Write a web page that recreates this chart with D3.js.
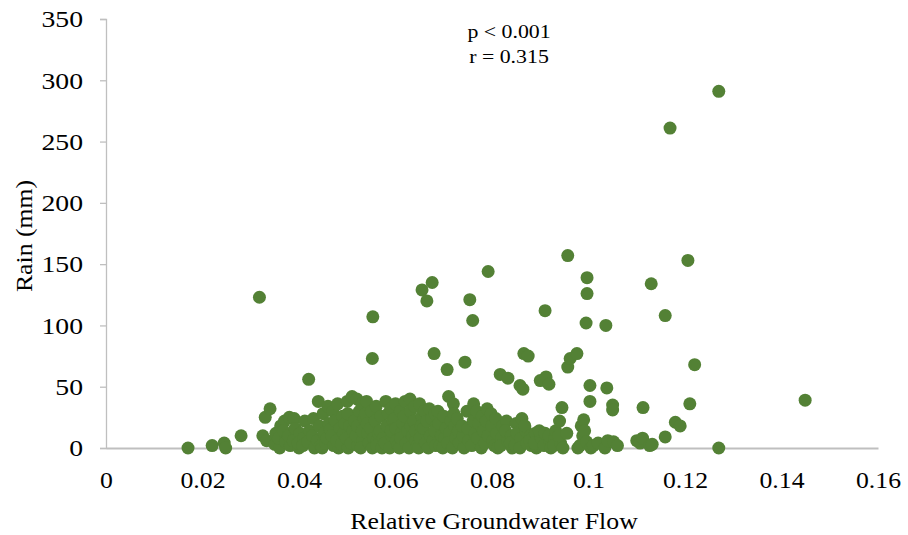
<!DOCTYPE html>
<html>
<head>
<meta charset="utf-8">
<script src="https://cdn.jsdelivr.net/npm/d3@7/dist/d3.min.js"></script>
<style>
  html, body { margin: 0; padding: 0; background: #fff; }
  svg { display: block; }
  text { font-family: "Liberation Serif", "Times New Roman", serif; fill: #000; }
</style>
</head>
<body>
<svg id="chart" width="908" height="535"></svg>
<script>
// ---- data ----
const xTicks = [0, 0.02, 0.04, 0.06, 0.08, 0.1, 0.12, 0.14, 0.16];
const xTickLabels = ["0", "0.02", "0.04", "0.06", "0.08", "0.1", "0.12", "0.14", "0.16"];
const yTicks = [0, 50, 100, 150, 200, 250, 300, 350];
const annotation = ["p < 0.001", "r = 0.315"];
const xTitle = "Relative Groundwater Flow";
const yTitle = "Rain (mm)";

// [relative groundwater flow, rain (mm)]
const observations = [
  [0.017,0],[0.022,2],[0.0245,4],[0.0248,0],[0.028,10],[0.0318,123],[0.0325,10],
  [0.033,25],[0.0333,6],[0.034,32],[0.035,3],[0.0352,12],
  [0.036,0],[0.0362,18],[0.0358,8],[0.037,22],[0.0372,5],[0.0368,14],
  [0.038,25],[0.0382,2],[0.0378,10],[0.039,24],[0.0392,16],[0.0388,6],
  [0.040,0],[0.0402,12],[0.0398,4],[0.041,8],[0.0412,22],[0.0408,2],
  [0.042,56],[0.0422,14],[0.0418,5],[0.043,24],[0.0432,0],[0.0428,10],
  [0.044,38],[0.0442,18],[0.0438,6],[0.0445,2],
  [0.045,28],[0.0452,12],[0.0448,0],[0.0455,4],
  [0.046,34],[0.0462,20],[0.0458,8],[0.0465,15],
  [0.047,30],[0.0472,2],[0.0468,10],[0.0475,22],
  [0.048,36],[0.0482,0],[0.0478,6],[0.0485,16],
  [0.049,26],[0.0492,12],[0.0488,3],[0.0495,20],
  [0.050,38],[0.0502,0],[0.0498,8],[0.0505,18],[0.0501,28],
  [0.051,42],[0.0512,14],[0.0508,4],[0.0515,22],
  [0.052,40],[0.0522,2],[0.0518,10],[0.0525,30],[0.0521,18],
  [0.053,36],[0.0532,6],[0.0528,0],[0.0535,24],[0.0531,14],
  [0.054,38],[0.0542,12],[0.0538,28],[0.0545,4],[0.0541,20],
  [0.0553,107],[0.0552,73],[0.055,30],[0.0552,0],[0.0548,16],[0.0555,8],
  [0.056,34],[0.0562,6],[0.0558,22],[0.0565,12],[0.0561,2],
  [0.057,26],[0.0572,0],[0.0568,14],[0.0575,8],
  [0.058,38],[0.0582,18],[0.0578,4],[0.0585,28],
  [0.059,32],[0.0592,10],[0.0588,0],[0.0595,22],[0.0591,14],
  [0.060,36],[0.0602,6],[0.0598,24],[0.0605,2],[0.0601,16],
  [0.061,30],[0.0612,12],[0.0608,0],[0.0615,20],[0.0611,8],
  [0.062,38],[0.0622,4],[0.0618,26],[0.0625,14],
  [0.063,40],[0.0632,18],[0.0628,0],[0.0635,10],[0.0631,30],
  [0.064,34],[0.0642,6],[0.0638,22],[0.0645,2],[0.0641,14],
  [0.0655,129],[0.065,36],[0.0652,12],[0.0648,0],[0.0655,26],[0.0651,8],[0.0653,18],
  [0.0665,120],[0.066,30],[0.0662,4],[0.0658,16],[0.0665,22],
  [0.0676,135],[0.067,32],[0.0672,10],[0.0668,0],[0.0675,24],
  [0.068,77],[0.0682,28],[0.0678,6],[0.0685,18],[0.0681,14],[0.0683,2],
  [0.069,20],[0.0692,2],[0.0688,30],[0.0695,10],
  [0.0707,64],[0.070,26],[0.0702,8],[0.0698,0],[0.0705,16],
  [0.071,42],[0.0712,12],[0.0708,4],[0.0715,22],
  [0.072,36],[0.0722,18],[0.0718,0],[0.0725,8],[0.0721,28],
  [0.073,14],[0.0732,4],[0.0728,24],
  [0.0744,70],[0.074,10],[0.0742,0],[0.0738,18],
  [0.0754,121],[0.075,16],[0.0752,6],[0.0748,30],
  [0.076,104],[0.0762,36],[0.0758,2],[0.0765,12],[0.0761,22],
  [0.077,8],[0.0772,20],[0.0768,30],
  [0.078,26],[0.0782,14],[0.0778,0],[0.0785,4],
  [0.0792,144],[0.079,32],[0.0792,10],[0.0788,22],
  [0.080,18],[0.0802,6],[0.0798,28],[0.0805,2],
  [0.0817,60],[0.081,12],[0.0812,0],[0.0808,24],
  [0.082,8],[0.0822,18],[0.0818,2],
  [0.0833,57],[0.083,22],[0.0832,6],[0.0828,14],
  [0.084,10],[0.0842,0],[0.0838,4],
  [0.085,20],[0.0852,12],[0.0848,2],
  [0.0858,51],[0.0866,77],[0.086,8],[0.0862,24],[0.0858,0],
  [0.0864,48],[0.0875,75],[0.087,14],[0.0872,4],[0.0868,18],
  [0.088,10],[0.0882,2],[0.0878,6],
  [0.089,12],[0.0892,0],[0.0888,4],
  [0.090,55],[0.0902,8],[0.0898,14],
  [0.091,112],[0.0912,58],[0.091,12],[0.0908,2],
  [0.0918,52],[0.092,6],[0.0922,0],[0.0918,10],
  [0.093,8],[0.0932,14],[0.0928,2],
  [0.094,22],[0.0942,4],[0.0938,10],
  [0.0945,33],[0.0947,0],
  [0.0957,157],[0.0957,66],[0.0955,12],[0.0962,73],
  [0.0976,77],[0.0978,0],
  [0.0985,18],[0.0988,10],[0.0982,2],[0.099,23],[0.0992,14],
  [0.0995,102],[0.0997,139],[0.0997,126],[0.0996,5],
  [0.1003,51],[0.1003,38],[0.1005,0],[0.101,2],[0.102,4],
  [0.1036,100],[0.1034,0],[0.1038,49],[0.104,6],
  [0.105,35],[0.105,31],[0.1052,5],[0.106,2],
  [0.110,6],[0.1107,4],[0.1113,33],[0.1112,8],[0.1127,2],
  [0.113,134],[0.1132,3],[0.1159,108],[0.1159,9],
  [0.1169,261],[0.118,21],[0.119,18],[0.1206,153],[0.121,36],[0.122,68],
  [0.127,291],[0.127,0],[0.1449,39]
];

// ---- layout ----
const svg = d3.select("#chart");
const stretch = 1.12;
const x = d3.scaleLinear().domain([0, 0.16]).range([106, 878]);
const y = d3.scaleLinear().domain([0, 350]).range([448, 19]);
const axisColor = "#bfbfbf";

// y axis
const gy = svg.append("g").attr("transform", `translate(${x(0)},0)`)
  .call(d3.axisLeft(y).tickValues(yTicks).tickSize(6).tickPadding(17).tickFormat(d3.format("d")));
gy.select(".domain").attr("stroke", axisColor).attr("stroke-width", 1.3);
gy.selectAll(".tick line").attr("stroke", axisColor).attr("stroke-width", 1.3);
gy.selectAll(".tick text")
  .attr("font-family", "Liberation Serif").attr("font-size", 23.5).attr("fill", "#000")
  .attr("x", -23 / 1.18).attr("dy", "0.33em")
  .attr("transform", `scale(1.18,1)`);

// x axis
const gx = svg.append("g").attr("transform", `translate(0,${y(0)})`)
  .call(d3.axisBottom(x).tickValues(xTicks).tickSize(0).tickPadding(24)
    .tickFormat((d, i) => xTickLabels[i]));
gx.select(".domain").attr("stroke", axisColor).attr("stroke-width", 1.8);
gx.selectAll(".tick text")
  .attr("font-family", "Liberation Serif").attr("font-size", 23).attr("fill", "#000")
  .attr("transform", `scale(${stretch},1)`);

// points
svg.append("g").selectAll("circle").data(observations).join("circle")
  .attr("cx", d => x(d[0])).attr("cy", d => y(d[1]))
  .attr("r", 6.5).attr("fill", "#538135");

// titles
function stretchedText(tx, ty, str, size, rotate) {
  svg.append("text")
    .attr("transform", `translate(${tx},${ty}) ${rotate ? "rotate(-90)" : ""} scale(${stretch},1)`)
    .attr("text-anchor", "middle").attr("font-size", size).text(str);
}
stretchedText(494, 529, xTitle, 23, false);
stretchedText(32, 236, yTitle, 23, true);
stretchedText(509, 38, annotation[0], 19.5, false);
stretchedText(509, 63, annotation[1], 19.5, false);
</script>
</body>
</html>
